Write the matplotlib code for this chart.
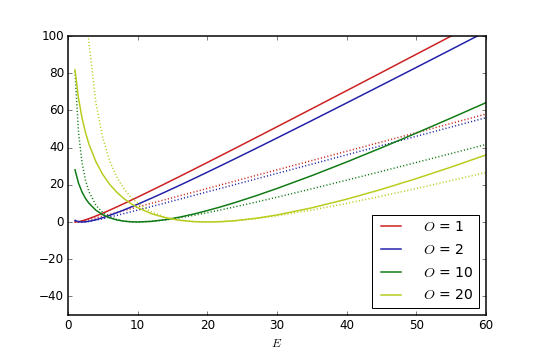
import matplotlib
matplotlib.use('Agg')
import matplotlib.pyplot as plt

plt.style.use('classic')
plt.rcParams['font.size'] = 12
plt.rcParams['axes.linewidth'] = 1.5

# expected values E
E = [1, 1.5, 2, 2.5, 3, 4, 5, 6, 7, 8, 9, 10, 12, 14, 16, 18, 20, 22, 24,
     27, 30, 35, 40, 45, 50, 55, 60]

# solid curves
solid_o1 = [0, 0.19, 0.61, 1.17, 1.80, 3.23, 4.78, 6.42, 8.11, 9.84, 11.61,
            13.39, 17.03, 20.72, 24.45, 28.22, 32.01, 35.82, 39.64, 45.41,
            51.20, 60.89, 70.62, 80.39, 90.18, 99.99, 109.81]
solid_o2 = [0.77, 0.15, 0, 0.11, 0.38, 1.23, 2.33, 3.61, 4.99, 6.45, 7.98,
            9.56, 12.83, 16.22, 19.68, 23.21, 26.79, 30.41, 34.06, 39.59,
            45.17, 54.55, 64.02, 73.55, 83.12, 92.74, 102.40]
solid_o10 = [28.05, 20.94, 16.19, 12.73, 10.08, 6.33, 3.86, 2.22, 1.13, 0.46,
             0.11, 0, 0.35, 1.27, 2.60, 4.24, 6.14, 8.23, 10.49, 14.13,
             18.03, 24.94, 32.27, 39.92, 47.81, 55.91, 64.16]
solid_o20 = [81.83, 66.61, 56.10, 48.18, 41.88, 32.38, 25.45, 20.16, 15.99,
             12.65, 9.94, 7.73, 4.43, 2.27, 0.93, 0.21, 0, 0.19, 0.71, 2.00,
             3.78, 7.62, 12.27, 17.56, 23.35, 29.54, 36.06]

# dotted curves
dot_o1 = [0, 0.17, 0.5, 0.9, 1.33, 2.25, 3.2, 4.17, 5.14, 6.13, 7.11, 8.1,
          10.08, 12.07, 14.06, 16.06, 18.05, 20.05, 22.04, 25.04, 28.03,
          33.03, 38.03, 43.02, 48.02, 53.02, 58.02]
dot_o2 = [1, 0.17, 0, 0.1, 0.33, 1, 1.8, 2.67, 3.57, 4.5, 5.44, 6.4, 8.33,
          10.29, 12.25, 14.22, 16.2, 18.18, 20.17, 23.15, 26.13, 31.11, 36.1,
          41.09, 46.08, 51.07, 56.07]
dot_o10 = [81, 48.17, 32, 22.5, 16.33, 9, 5, 2.67, 1.29, 0.5, 0.11, 0, 0.33,
           1.14, 2.25, 3.56, 5, 6.55, 8.17, 10.70, 13.33, 17.86, 22.5, 27.22,
           32, 36.82, 41.67]
dot_o20 = [361, 228.17, 162, 122.5, 96.33, 64, 45, 32.67, 24.14, 18, 13.44,
           10, 5.33, 2.57, 1, 0.22, 0, 0.18, 0.67, 1.81, 3.33, 6.43, 10,
           13.89, 18, 22.27, 26.67]

labels = ['$O$ = 1', '$O$ = 2', '$O$ = 10', '$O$ = 20']
colors = ['#cc1f1f', '#2020aa', '#0f7a14', '#b8cc1c']
solids = [solid_o1, solid_o2, solid_o10, solid_o20]
dots = [dot_o1, dot_o2, dot_o10, dot_o20]

fig = plt.figure(figsize=(7.5, 5), dpi=72, facecolor='white')
ax = fig.add_axes([0.126, 0.125, 0.774, 0.775])

for s, d, c, lab in zip(solids, dots, colors, labels):
    ax.plot(E, s, color=c, lw=1.5, label=lab)
    ax.plot(E, d, color=c, lw=1.5, linestyle=(0, (1.1, 2.2)))

ax.set_xlim(0, 60)
ax.set_ylim(-50, 100)
ax.set_xticks(range(0, 61, 10))
ax.set_yticks(range(-40, 101, 20))
ax.set_xlabel('$E$')
ax.legend(loc='lower right', fontsize=14, fancybox=False,
          handletextpad=1.3, labelspacing=0.62, borderaxespad=0.5)

fig.savefig('out.png', dpi=72, facecolor='white')
